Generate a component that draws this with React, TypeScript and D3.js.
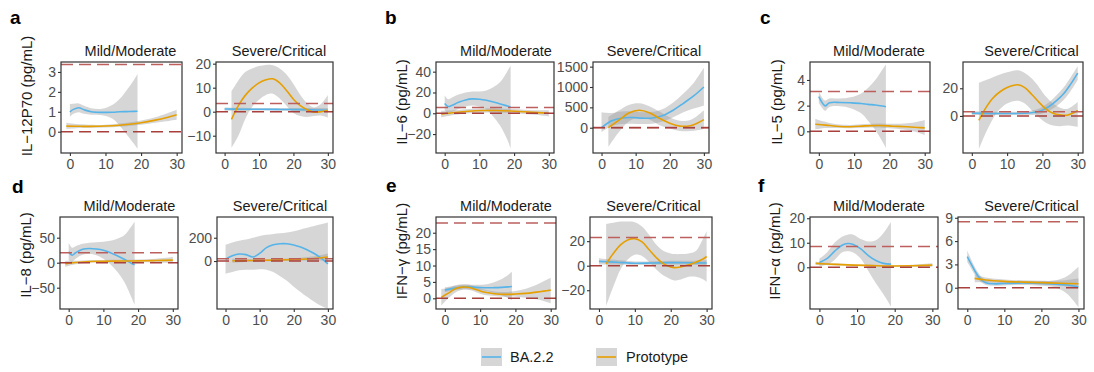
import { useEffect, useRef } from "react";
import * as d3 from "d3";

// each row: [day, fit, lower, upper]
type Row = [number, number, number, number];

const seriesNames = ["BA.2.2", "Prototype"];
const seriesColors = ["#56B4E9", "#E69F00"];
const facetNames = ["Mild/Moderate", "Severe/Critical"];
const xTicks = [0, 10, 20, 30];
const xDomain = [-2.5, 31.5];

// a: IL-12P70
const il12MildBA: Row[] = [[0, 1.0, 0.75, 1.38], [1, 1.12, 0.9, 1.4], [2.5, 1.2, 0.98, 1.42], [4, 1.1, 0.9, 1.3], [6, 1.0, 0.85, 1.18], [9, 0.97, 0.82, 1.15], [12, 0.98, 0.65, 1.35], [14, 1.0, 0.3, 1.65], [16, 1.01, -0.15, 2.1], [18, 1.02, -0.6, 2.6], [19, 1.03, -0.85, 2.9]];
const il12MildPro: Row[] = [[-1, 0.28, 0.13, 0.45], [3, 0.27, 0.18, 0.37], [8, 0.27, 0.2, 0.34], [12, 0.3, 0.22, 0.38], [16, 0.36, 0.27, 0.45], [20, 0.45, 0.35, 0.56], [24, 0.58, 0.45, 0.72], [27, 0.7, 0.52, 0.9], [30, 0.85, 0.6, 1.1]];
const il12SevBA: Row[] = [[0, 1.1, 0.4, 1.8], [5, 1.05, 0.5, 1.6], [10, 1.0, 0.5, 1.5], [15, 0.95, 0.4, 1.5], [20, 0.9, 0.3, 1.5], [25, 0.8, 0.1, 1.5], [30, 0.6, -0.3, 1.5]];
const il12SevPro: Row[] = [[2, -3.2, -15, 8.5], [4, 2.5, -10, 13], [6, 6.8, -3, 16.5], [8, 9.8, 2, 18], [10, 12, 5, 19], [12, 13.3, 7, 19.5], [14, 13.7, 7.5, 19.3], [16, 12, 5.5, 18], [18, 8.8, 2.5, 15.5], [20, 5.2, -0.5, 11.5], [22, 2.5, -1.8, 7], [24, 0.8, -2.2, 3.5], [26, -0.2, -1.8, 1.8], [28, 0, -1.6, 3.2], [30, 0.6, -2.5, 7]];

// b: IL-6
const il6MildBA: Row[] = [[0, 9.5, 3, 17], [1, 6.5, 0.5, 13.5], [2, 7.5, 1, 15], [4, 10.5, 4, 18], [6, 12.8, 6.5, 20], [8, 13.8, 7.5, 21], [10, 13.5, 6.5, 21], [12, 12.5, 3.5, 22], [14, 10.8, -3, 25], [16, 9, -12, 30], [18, 7, -25, 40], [19, 6, -34, 46]];
const il6MildPro: Row[] = [[-1, -0.8, -4, 2.5], [3, 0.8, -1.5, 3], [7, 2, 0, 4], [11, 2.6, 0.6, 4.6], [15, 2.7, 0.7, 4.7], [19, 2.2, 0.3, 4.1], [23, 1.4, -0.6, 3.4], [27, 0.6, -1.6, 2.8], [30, 0, -3, 3]];
const il6SevBA: Row[] = [[0, 0, -110, 380], [3, 170, 40, 360], [6, 240, 90, 400], [9, 250, 100, 400], [12, 235, 90, 380], [15, 240, 100, 390], [18, 300, 160, 460], [21, 430, 260, 620], [24, 600, 380, 840], [27, 780, 470, 1100], [30, 1000, 540, 1470]];
const il6SevPro: Row[] = [[2, 0, -470, 260], [5, 180, -120, 420], [8, 360, 150, 560], [11, 430, 250, 600], [14, 370, 200, 530], [17, 230, 60, 400], [20, 110, -20, 260], [23, 40, -80, 170], [26, 50, -80, 190], [28, 110, -60, 290], [30, 200, -30, 430]];

// c: IL-5
const il5MildBA: Row[] = [[0, 2.7, 2.2, 3.1], [1, 2.2, 1.8, 2.6], [1.8, 1.98, 1.6, 2.4], [3, 2.22, 1.9, 2.55], [6, 2.25, 1.95, 2.55], [9, 2.22, 1.8, 2.65], [12, 2.17, 1.4, 2.95], [14, 2.1, 0.8, 3.4], [16, 2.05, 0.1, 4.0], [18, 1.97, -0.8, 4.8], [19, 1.92, -1.3, 5.2]];
const il5MildPro: Row[] = [[-1, 0.55, 0.15, 0.95], [2, 0.48, 0.25, 0.72], [5, 0.4, 0.25, 0.55], [9, 0.36, 0.24, 0.5], [13, 0.42, 0.28, 0.56], [17, 0.45, 0.3, 0.6], [21, 0.4, 0.22, 0.58], [25, 0.35, 0.1, 0.62], [28, 0.3, -0.1, 0.75], [30, 0.27, -0.3, 0.88]];
const il5SevBA: Row[] = [[0, 2, 0.5, 3.5], [5, 1.8, 0.6, 3], [10, 1.8, 0.7, 2.9], [15, 1.9, 0.6, 3.2], [18, 2.6, 0.8, 4.4], [20, 4.2, 1.8, 6.6], [22, 7, 4, 10], [24, 11, 7, 15], [26, 16, 11.5, 20.5], [28, 23, 18, 28], [30, 31, 26, 36]];
const il5SevPro: Row[] = [[2, -3.2, -24, 24], [4, 6, -12, 26], [6, 13, -2, 28], [8, 17.5, 5, 30], [10, 20.5, 9, 31.5], [13, 22.5, 11, 33], [15, 20.5, 9, 31], [17, 15.5, 4, 27], [19, 10, -1, 21], [21, 5, -5, 14], [23, 2, -7, 9], [25, 0.8, -7.5, 6], [27, 0.5, -7, 5], [29, 2.5, -7.5, 8], [30, 4, -8, 10]];

// d: IL-8
const il8MildBA: Row[] = [[0, 22, 5, 40], [1, 15, 2, 30], [2, 20, 8, 33], [4, 27, 16, 38], [6, 28.5, 18, 40], [8, 27.5, 15, 41], [10, 25, 8, 42], [12, 20, -3, 44], [14, 14, -18, 48], [16, 7, -38, 55], [18, -1, -68, 72], [19, -4, -84, 82]];
const il8MildPro: Row[] = [[-1, -2, -8, 4], [2, 0.5, -3, 4], [6, 2.5, 0, 5], [10, 3, 0.5, 5.5], [15, 3.3, 1, 5.8], [20, 3.6, 1, 6.2], [25, 4.3, 0.5, 8], [30, 5.2, -1, 11.5]];
const il8SevBA: Row[] = [[0, 15, -110, 140], [2, 45, -95, 160], [4, 60, -80, 175], [6, 55, -75, 185], [8, 35, -75, 200], [10, 65, -70, 215], [12, 115, -75, 225], [14, 140, -95, 232], [16, 148, -130, 238], [18, 148, -170, 245], [20, 138, -220, 255], [22, 120, -265, 270], [24, 95, -310, 285], [26, 65, -350, 300], [28, 25, -385, 315], [30, -25, -410, 330]];
const il8SevPro: Row[] = [[2, 2, -15, 19], [6, 4, -8, 16], [10, 6, -4, 16], [14, 8, -2, 18], [18, 11, 0, 22], [22, 15, 2, 28], [26, 22, 4, 40], [30, 35, 5, 65]];

// e: IFN-gamma
const ifngMildBA: Row[] = [[0, 2.5, 1.8, 3.3], [3, 3.1, 2.5, 3.8], [6, 3.5, 2.8, 4.2], [9, 3.35, 2.6, 4.1], [12, 3.2, 2.2, 4.3], [14, 3.25, 1.6, 4.9], [16, 3.35, 0.9, 5.8], [18, 3.5, 0, 7.2], [19, 3.6, -0.6, 8.1]];
const ifngMildPro: Row[] = [[-1, 0.3, -2.2, 2.8], [1, 1.6, 0, 3.2], [3, 2.9, 1.8, 4], [5, 3.4, 2.6, 4.3], [7, 3.3, 2.5, 4.1], [9, 2.6, 1.8, 3.5], [11, 1.9, 1.1, 2.8], [14, 1.4, 0.7, 2.1], [17, 1.2, 0.5, 1.9], [20, 1.3, 0.5, 2.2], [23, 1.5, 0.2, 2.9], [26, 1.9, -0.3, 4.1], [28, 2.2, -0.8, 5.2], [30, 2.5, -1.5, 6.3]];
const ifngSevBA: Row[] = [[0, 3.5, 1, 6], [5, 2.8, 1, 4.6], [10, 2, 0.5, 3.5], [15, 2.2, 0.8, 3.6], [20, 2.5, 1, 4], [25, 2.4, 0.8, 4], [30, 2.2, 0, 4.4]];
const ifngSevPro: Row[] = [[2, 1.5, -33, 34], [4, 10, -17, 35], [6, 17, -3, 36], [8, 21, 5, 36], [10, 22, 9, 35.5], [12, 19.5, 8, 32], [14, 13, 3, 25], [16, 6.5, -3, 17], [18, 1.5, -8, 12], [20, -1, -11, 10], [21, -1.6, -12, 9.5], [23, -0.8, -11, 9.5], [25, 0.8, -9, 10], [27, 2.8, -9, 12], [29, 5.5, -11, 22], [30, 7.5, -13, 28]];

// f: IFN-alpha
const ifnaMildBA: Row[] = [[0, 2, 0.5, 3.5], [2, 3.5, 1, 6], [4, 6.5, 3, 10], [6, 9, 6, 12.5], [7.5, 9.7, 6.5, 13.3], [9, 9.3, 6, 13.3], [11, 7.5, 3.5, 11.5], [13, 4.8, -1.5, 10.5], [15, 2.8, -6.5, 11], [17, 1.6, -11, 14], [19, 1.3, -16, 18.5]];
const ifnaMildPro: Row[] = [[-1, 1.6, 0.9, 2.3], [4, 1.2, 0.8, 1.6], [9, 0.9, 0.6, 1.2], [14, 0.7, 0.4, 1.0], [19, 0.55, 0.25, 0.85], [24, 0.6, 0.25, 0.95], [30, 0.9, 0.2, 1.6]];
const ifnaSevBA: Row[] = [[0, 4, 3.3, 4.8], [1, 3.1, 2.5, 3.7], [2, 2.2, 1.7, 2.7], [3, 1.45, 1.05, 1.9], [4, 0.95, 0.6, 1.3], [5, 0.65, 0.35, 0.95], [7, 0.5, 0.25, 0.8], [10, 0.55, 0.3, 0.8], [15, 0.6, 0.35, 0.85], [20, 0.55, 0.25, 0.85], [24, 0.45, 0, 0.95], [27, 0.35, -0.8, 1.5], [30, 0.1, -2.5, 2.7]];
const ifnaSevPro: Row[] = [[2, 1.2, 0.7, 1.7], [5, 1.0, 0.7, 1.3], [10, 0.82, 0.6, 1.05], [15, 0.72, 0.5, 0.95], [20, 0.65, 0.42, 0.88], [25, 0.58, 0.25, 0.92], [30, 0.5, -0.1, 1.2]];

// y axes: domains and ticks per facet
const il12Ticks = [[0, 1, 2, 3], [-10, 0, 10, 20]];
const il6Ticks = [[-20, 0, 20, 40], [0, 500, 1000, 1500]];
const il5Ticks = [[0, 2, 4], [0, 20]];
const il8Ticks = [[-50, 0, 50], [0, 200]];
const ifngTicks = [[0, 5, 10, 15, 20], [-20, 0, 20]];
const ifnaTicks = [[0, 10, 20], [0, 3, 6, 9]];

// dashed reference levels per facet
const il12Refs = [[3.37, 0], [3.4, 0]];
const il6Refs = [[5.5, 0], [5.5, 0]];
const il5Refs = [[3.1, 0], [3.1, 0]];
const il8Refs = [[20, 0], [20, 0]];
const ifngRefs = [[23, 0], [23, 0]];
const ifnaRefs = [[8.5, 0], [8.5, 0]];

const panels = [
  { id: "a", label: "IL−12P70 (pg/mL)", data: [[il12MildBA, il12MildPro], [il12SevBA, il12SevPro]], yDomain: [[-1.07, 3.5], [-17.2, 20.7]], ticks: il12Ticks, refs: il12Refs },
  { id: "b", label: "IL−6 (pg/mL)", data: [[il6MildBA, il6MildPro], [il6SevBA, il6SevPro]], yDomain: [[-38.2, 49.3], [-621, 1614]], ticks: il6Ticks, refs: il6Refs },
  { id: "c", label: "IL−5 (pg/mL)", data: [[il5MildBA, il5MildPro], [il5SevBA, il5SevPro]], yDomain: [[-1.69, 5.4], [-26.8, 39]], ticks: il5Ticks, refs: il5Refs },
  { id: "d", label: "IL−8 (pg/mL)", data: [[il8MildBA, il8MildPro], [il8SevBA, il8SevPro]], yDomain: [[-92.6, 91.4], [-412, 378]], ticks: il8Ticks, refs: il8Refs },
  { id: "e", label: "IFN−γ (pg/mL)", data: [[ifngMildBA, ifngMildPro], [ifngSevBA, ifngSevPro]], yDomain: [[-3.26, 24.8], [-35.3, 39.7]], ticks: ifngTicks, refs: ifngRefs },
  { id: "f", label: "IFN−α (pg/mL)", data: [[ifnaMildBA, ifnaMildPro], [ifnaSevBA, ifnaSevPro]], yDomain: [[-17, 20.5], [-2.74, 9.1]], ticks: ifnaTicks, refs: ifnaRefs },
];

// layout (pixels)
const rows = [[62, 153], [217, 309]];
const layout: Record<string, any> = {
  a: { row: 0, letter: [10, 24], title: [26, 96], boxes: [[61, 182], [216, 333]], strips: [130.5, 279] },
  b: { row: 0, letter: [385, 24], title: [401, 102], boxes: [[436, 554], [593, 709]], strips: [506, 654] },
  c: { row: 0, letter: [760, 24], title: [776, 102], boxes: [[810, 930], [963, 1083]], strips: [879, 1031.5] },
  d: { row: 1, letter: [12, 193], title: [25, 255], boxes: [[60, 178], [217, 333]], strips: [129.5, 280] },
  e: { row: 1, letter: [386, 192], title: [401, 251], boxes: [[436, 556], [590, 712]], strips: [506, 653.5] },
  f: { row: 1, letter: [758, 192], title: [774, 251], boxes: [[810, 938], [958, 1084]], strips: [879, 1031.5] },
};

const FONT = "'Liberation Sans', Arial, Helvetica, sans-serif";

export default function App() {
  const ref = useRef<SVGSVGElement>(null);

  useEffect(() => {
    const svg = d3.select(ref.current);
    svg.selectAll("*").remove();
    const fmt = d3.format("d");

    panels.forEach((p) => {
      const L = layout[p.id];
      const [top, bottom] = rows[L.row];

      // panel letter
      svg.append("text")
        .attr("x", L.letter[0]).attr("y", L.letter[1])
        .style("font-size", "19px").style("font-weight", "bold")
        .attr("fill", "#000").text(p.id);

      // y-axis title
      svg.append("text")
        .attr("transform", `translate(${L.title[0]},${L.title[1]}) rotate(-90)`)
        .attr("text-anchor", "middle").attr("dominant-baseline", "central")
        .style("font-size", "15px").attr("fill", "#1a1a1a")
        .text(p.label);

      p.data.forEach((pair, fi) => {
        const [x0, x1] = L.boxes[fi];
        const x = d3.scaleLinear().domain(xDomain).range([x0, x1]);
        const y = d3.scaleLinear().domain(p.yDomain[fi]).range([bottom, top]);
        const clipId = `clip-${p.id}-${fi}`;
        svg.append("clipPath").attr("id", clipId)
          .append("rect").attr("x", x0).attr("y", top).attr("width", x1 - x0).attr("height", bottom - top);

        const g = svg.append("g").attr("clip-path", `url(#${clipId})`);
        const area = d3.area<Row>()
          .x((d) => x(d[0])).y0((d) => y(d[2])).y1((d) => y(d[3]))
          .curve(d3.curveCatmullRom.alpha(0.5));
        const line = d3.line<Row>()
          .x((d) => x(d[0])).y((d) => y(d[1]))
          .curve(d3.curveCatmullRom.alpha(0.5));

        pair.forEach((s) => {
          g.append("path").attr("d", area(s as Row[])).attr("fill", "#999999").attr("fill-opacity", 0.4);
        });
        pair.forEach((s, i) => {
          g.append("path").attr("d", line(s as Row[]))
            .attr("fill", "none").attr("stroke", seriesColors[i]).attr("stroke-width", 1.6);
        });

        // dashed reference lines
        p.refs[fi].forEach((v, k) => {
          g.append("line")
            .attr("x1", x0).attr("x2", x1).attr("y1", y(v)).attr("y2", y(v))
            .attr("stroke", k === 0 ? "#bb605d" : "#a8403d")
            .attr("stroke-width", 1.5).attr("stroke-dasharray", "12,6");
        });

        // panel border
        svg.append("rect")
          .attr("x", x0).attr("y", top).attr("width", x1 - x0).attr("height", bottom - top)
          .attr("fill", "none").attr("stroke", "#333").attr("stroke-width", 1.2);

        // strip title
        svg.append("text")
          .attr("x", L.strips[fi]).attr("y", L.row === 0 ? 55.5 : 211)
          .attr("text-anchor", "middle")
          .style("font-size", "14.5px").attr("fill", "#1a1a1a")
          .text(facetNames[fi]);

        // axes
        const xa = svg.append("g")
          .attr("transform", `translate(0,${bottom})`)
          .call(d3.axisBottom(x).tickValues(xTicks).tickFormat(fmt as any).tickSize(3).tickPadding(3));
        const ya = svg.append("g")
          .attr("transform", `translate(${x0},0)`)
          .call(d3.axisLeft(y).tickValues(p.ticks[fi]).tickFormat(fmt as any).tickSize(3).tickPadding(2));
        [xa, ya].forEach((ax) => {
          ax.select(".domain").remove();
          ax.attr("font-family", FONT).attr("font-size", 14);
          ax.selectAll("line").attr("stroke", "#333").attr("stroke-width", 1.1);
          ax.selectAll("text").attr("fill", "#4d4d4d");
        });
      });
    });

    // legend
    const keys = [[481, 510], [596, 626]];
    seriesNames.forEach((name, i) => {
      const [kx, tx] = keys[i];
      svg.append("rect").attr("x", kx).attr("y", 348).attr("width", 21).attr("height", 18)
        .attr("fill", "#999999").attr("fill-opacity", 0.4);
      svg.append("line").attr("x1", kx + 1).attr("x2", kx + 20).attr("y1", 357).attr("y2", 357)
        .attr("stroke", seriesColors[i]).attr("stroke-width", 1.6);
      svg.append("text").attr("x", tx).attr("y", 362)
        .style("font-size", "14.5px").attr("fill", "#1a1a1a").text(name);
    });
  }, []);

  return (
    <svg
      ref={ref}
      width={1094}
      height={372}
      style={{ position: "absolute", left: 0, top: 0, fontFamily: FONT, background: "#fff" }}
    />
  );
}
